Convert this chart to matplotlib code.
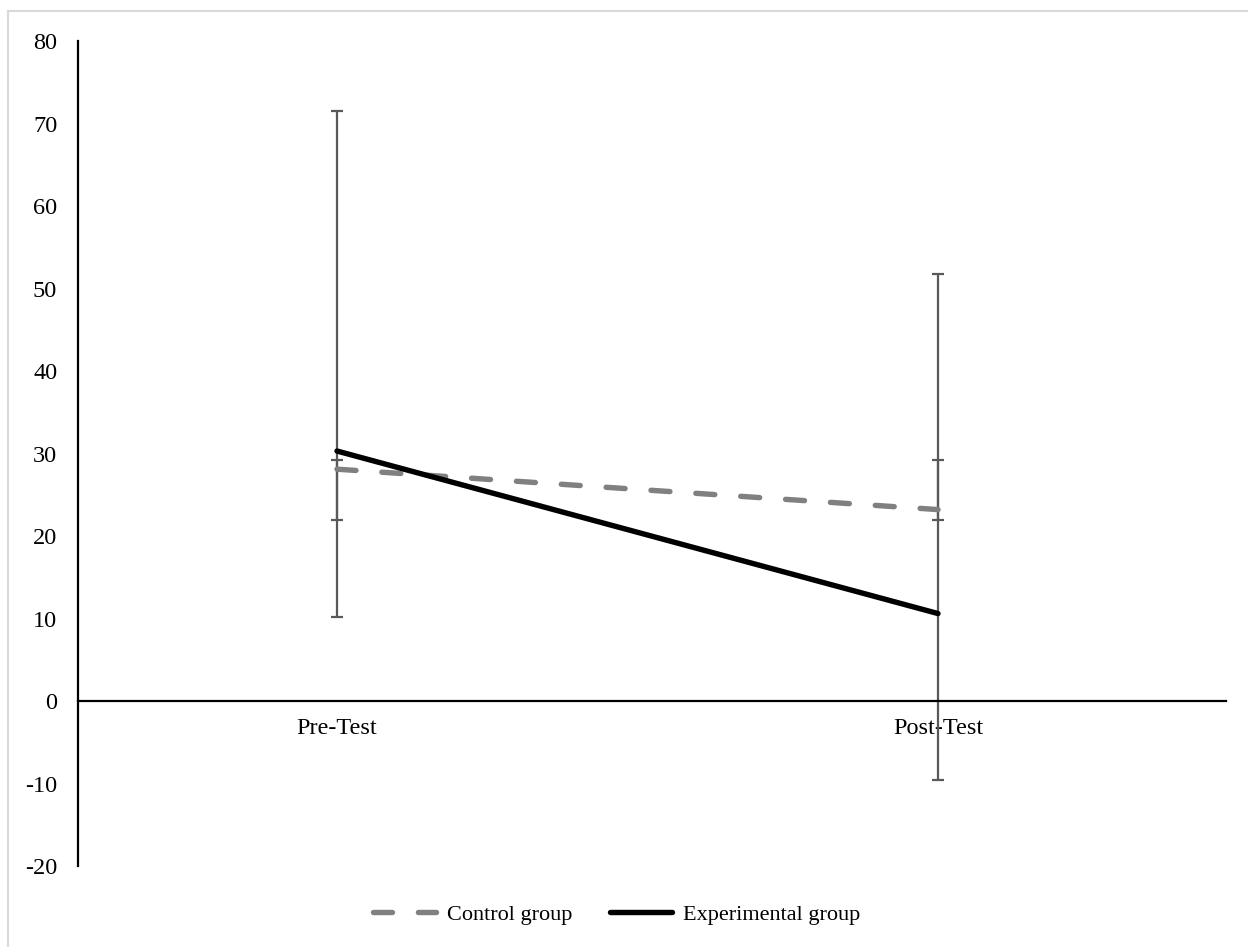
import matplotlib
matplotlib.use("Agg")
import matplotlib.pyplot as plt
from matplotlib.lines import Line2D

plt.rcParams['font.family'] = ['Liberation Serif', 'DejaVu Serif']

categories = ["Pre-Test", "Post-Test"]
control = [28.1, 23.2]
control_err_low = [6.1, 1.2]
control_err_high = [1.1, 6.0]
experimental = [30.3, 10.6]
exp_err_low = [20.1, 20.2]
exp_err_high = [41.2, 41.1]
yticks = [-20, -10, 0, 10, 20, 30, 40, 50, 60, 70, 80]

W, H = 1248, 947
FS = 16
TFS = 17.5
LW = 3.9
DASH = (0, (3.5, 4.8))

fig = plt.figure(figsize=(W / 100, H / 100), dpi=100)
ax = fig.add_axes([78 / W, 1 - 866 / H, 1148 / W, 825 / H])

x = list(range(len(categories)))
err_kw = dict(fmt='none', ecolor='#595959', elinewidth=1.6, capsize=4.5, capthick=1.6, zorder=2)
ax.errorbar(x, control, yerr=[control_err_low, control_err_high], **err_kw)
ax.errorbar(x, experimental, yerr=[exp_err_low, exp_err_high], **err_kw)

ax.plot(x, control, color='#808080', lw=LW, ls=DASH, dash_capstyle='round',
        solid_capstyle='round', zorder=3, label='Control group')
ax.plot(x, experimental, color='black', lw=LW, solid_capstyle='round', zorder=3,
        label='Experimental group')

for s in ['top', 'right']:
    ax.spines[s].set_visible(False)
ax.spines['bottom'].set_position(('data', 0))
ax.spines['bottom'].set_linewidth(1.6)
ax.spines['left'].set_linewidth(1.6)

ax.set_ylim(-20, 80)
ax.set_xlim(-(337 - 78) / 601, (1226 - 337) / 601)
ax.set_yticks(yticks)
ax.set_yticklabels([str(t) for t in yticks])
ax.set_xticks(x)
ax.set_xticklabels(categories)
ax.tick_params(axis='both', length=0, labelsize=TFS)
ax.tick_params(axis='y', pad=15)
ax.tick_params(axis='x', pad=12)

handles = [Line2D([0], [0], color='#808080', lw=LW, ls=DASH, dash_capstyle='round'),
           Line2D([0], [0], color='black', lw=LW, solid_capstyle='round')]
fig.legend(handles, ['Control group', 'Experimental group'], loc='center',
           bbox_to_anchor=(617 / W, 1 - 915 / H), ncol=2, frameon=False, fontsize=FS,
           handlelength=2.8, columnspacing=1.7, handletextpad=0.5)

# chart-area border (left and top edges visible)
fig.add_artist(Line2D([7.5 / W, 7.5 / W], [0, 1 - 11 / H], color='#D9D9D9', lw=1.5,
                      transform=fig.transFigure))
fig.add_artist(Line2D([7.5 / W, 1], [1 - 11 / H, 1 - 11 / H], color='#D9D9D9', lw=1.5,
                      transform=fig.transFigure))

fig.savefig('out.png', dpi=100)
